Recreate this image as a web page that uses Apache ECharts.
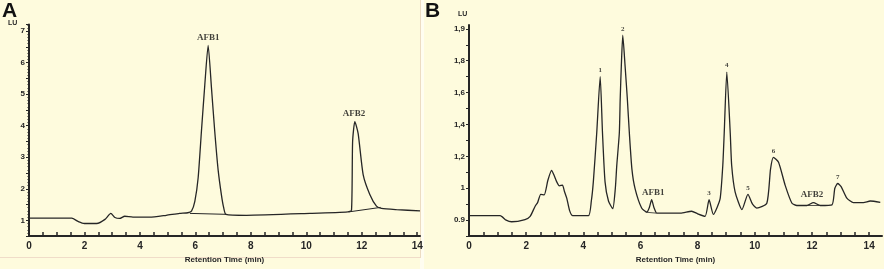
<!DOCTYPE html>
<html>
<head>
<meta charset="utf-8">
<script src="https://cdn.jsdelivr.net/npm/echarts@6/dist/echarts.min.js"></script>
<style>
  html, body { margin: 0; padding: 0; background: #fefbdd; }
  #chart { width: 884px; height: 269px; }
</style>
</head>
<body>
<div id="chart"></div>
<script>
// Panel A: chromatogram of standards (time in min, signal in LU)
const timeA = [0, 1.54, 1.78, 2.0, 2.44, 2.74, 2.95, 3.1, 3.27, 3.45, 3.75, 4.35, 4.95, 5.43, 5.73, 5.86, 5.98, 6.1, 6.22, 6.34, 6.46, 6.58, 6.7, 6.82, 6.94, 7.02, 7.1, 7.84, 10.13, 11.5, 11.63, 11.67, 11.75, 11.87, 12.05, 12.29, 12.53, 12.71, 13.25, 14.1];
const signalA = [1.07, 1.07, 0.96, 0.9, 0.9, 1.03, 1.22, 1.09, 1.06, 1.13, 1.1, 1.1, 1.16, 1.22, 1.24, 1.29, 1.6, 2.35, 3.85, 5.3, 6.55, 5.2, 3.8, 2.6, 1.8, 1.4, 1.19, 1.16, 1.22, 1.27, 1.32, 3.5, 4.13, 3.75, 2.45, 1.82, 1.45, 1.38, 1.34, 1.30];
// integration baselines under AFB1 / AFB2
const baseA1 = [[5.8, 1.22], [7.12, 1.19]];
const baseA2 = [[11.55, 1.27], [12.68, 1.41]];
const peakNamesA = ['AFB1', 'AFB2'];
const peakTimesA = [6.46, 11.72];
const peakValuesA = [6.55, 4.13];

// Panel B: sample chromatogram
const timeB = [0, 1.09, 1.3, 1.49, 1.96, 2.14, 2.31, 2.40, 2.51, 2.63, 2.76, 2.89, 2.98, 3.07, 3.16, 3.27, 3.34, 3.42, 3.52, 3.63, 4.18, 4.28, 4.35, 4.47, 4.59, 4.67, 4.76, 4.88, 5.03, 5.12, 5.17, 5.26, 5.29, 5.33, 5.38, 5.46, 5.54, 5.61, 5.7, 5.81, 6.04, 6.22, 6.31, 6.39, 6.47, 6.57, 6.69, 7.4, 7.79, 8.0, 8.26, 8.40, 8.55, 8.68, 8.79, 8.88, 8.93, 9.02, 9.14, 9.19, 9.31, 9.55, 9.76, 9.92, 10.07, 10.42, 10.55, 10.65, 10.83, 11.06, 11.30, 11.47, 11.82, 12.05, 12.29, 12.70, 12.8, 12.90, 13.02, 13.22, 13.45, 13.8, 14.04, 14.39];
const signalB = [0.914, 0.914, 0.9, 0.895, 0.902, 0.912, 0.943, 0.955, 0.981, 0.979, 1.05, 1.112, 1.08, 1.04, 1.015, 1.02, 0.99, 0.969, 0.93, 0.914, 0.914, 0.96, 1.04, 1.35, 1.70, 1.35, 1.04, 0.96, 0.936, 1.0, 1.142, 1.348, 1.56, 1.77, 1.88, 1.77, 1.56, 1.348, 1.12, 0.999, 0.938, 0.925, 0.94, 0.964, 0.94, 0.922, 0.922, 0.922, 0.928, 0.92, 0.912, 0.964, 0.918, 0.94, 0.969, 1.144, 1.348, 1.729, 1.348, 1.144, 0.989, 0.933, 0.981, 0.95, 0.938, 0.953, 1.12, 1.194, 1.163, 1.02, 0.953, 0.946, 0.946, 0.955, 0.946, 0.948, 1.0, 1.03, 1.01, 0.969, 0.955, 0.955, 0.96, 0.956];
const baseB1 = [[6.18, 0.925], [6.55, 0.922]];
const baseB2 = [[11.85, 0.946], [12.25, 0.946]];
const peakNamesB = ['1', '2', 'AFB1', '3', '4', '5', '6', 'AFB2', '7'];
const peakTimesB = [4.59, 5.38, 6.45, 8.40, 9.02, 9.76, 10.65, 12.0, 12.90];
const peakValuesB = [1.70, 1.88, 0.964, 0.964, 1.729, 0.981, 1.194, 0.955, 1.03];
// tick labels of the B axis (as printed, evenly spaced)
const yTicksB = [0.9, 1, 1.2, 1.4, 1.6, 1.8, 1.9];
const yLabelsB = ['0.9', '1', '1,2', '1,4', '1,6', '1,8', '1,9'];

// LU -> position on the evenly spaced B axis
function toIdx(v) {
    if (v <= yTicksB[0]) return (v - yTicksB[0]) / (yTicksB[1] - yTicksB[0]);
    for (let i = 1; i < yTicksB.length; i++) {
        if (v <= yTicksB[i]) return i - 1 + (v - yTicksB[i - 1]) / (yTicksB[i] - yTicksB[i - 1]);
    }
    let n = yTicksB.length - 1;
    return n + (v - yTicksB[n]) / (yTicksB[n] - yTicksB[n - 1]);
}

const ink = '#262626';
const lab = { fontFamily: 'Liberation Sans', fontWeight: 'bold', color: ink };

let chart = echarts.init(document.getElementById('chart'));

function xAx(idx, max) {
    return {
        type: 'value', gridIndex: idx, min: 0, max: max, interval: 0.5,
        axisLine: { onZero: false, lineStyle: { color: ink, width: 2 } },
        axisTick: { inside: true, length: 4, lineStyle: { color: ink, width: 1.5 } },
        splitLine: { show: false },
        axisLabel: Object.assign({ fontSize: 10, margin: 5, showMaxLabel: false,
            formatter: v => (v % 2 === 0 ? String(v) : '') }, lab),
        name: 'Retention Time (min)', nameLocation: 'middle', nameGap: 19,
        nameTextStyle: Object.assign({ fontSize: 8 }, lab)
    };
}

// peak name labels: small numbers, larger AFB names
function peakLabels(times, values, names, conv) {
    return times.map((t, i) => ({
        value: [t, conv(values[i])],
        label: { formatter: names[i], fontSize: names[i].length > 1 ? 9 : 7 }
    }));
}

let option = {
    animation: false,
    backgroundColor: '#fefbdd',
    graphic: [
        { type: 'rect', shape: { x: 420, y: 0, width: 4, height: 269 }, style: { fill: '#fffdf0' }, z: -1 },
        { type: 'line', shape: { x1: 420.5, y1: 0, x2: 420.5, y2: 258 }, style: { stroke: '#ecdcc2', lineWidth: 1 } },
        { type: 'line', shape: { x1: 0, y1: 257.5, x2: 420, y2: 257.5 }, style: { stroke: '#f0dcc8', lineWidth: 1 } },
        { type: 'text', left: 2, top: 1, style: { text: 'A', font: 'bold 21px Liberation Sans', fill: '#111' } },
        { type: 'text', left: 425, top: 1, style: { text: 'B', font: 'bold 21px Liberation Sans', fill: '#111' } },
        { type: 'text', left: 8, top: 20, style: { text: 'LU', font: 'bold 7px Liberation Sans', fill: ink } },
        { type: 'text', left: 458, top: 11, style: { text: 'LU', font: 'bold 7px Liberation Sans', fill: ink } }
    ],
    grid: [
        { left: 29, width: 391, top: 24.5, height: 212.5 },
        { left: 469, width: 413, top: 25, height: 215 }
    ],
    xAxis: [xAx(0, 14.1), xAx(1, 14.45)],
    yAxis: [
        {
            type: 'value', gridIndex: 0, min: 0.5, max: 7.21, interval: 0.5,
            axisLine: { show: true, lineStyle: { color: ink, width: 2 } },
            axisTick: { length: 3, lineStyle: { color: ink } },
            minorTick: { show: true, splitNumber: 5, length: 1.5, lineStyle: { color: ink } },
            splitLine: { show: false },
            axisLabel: Object.assign({ fontSize: 8, margin: 4, showMaxLabel: false,
                formatter: v => (Number.isInteger(v) ? String(v) : '') }, lab)
        },
        {
            type: 'value', gridIndex: 1, min: -0.5, max: 6.12, interval: 0.5,
            axisLine: { show: true, lineStyle: { color: ink, width: 2 } },
            axisTick: { length: 3, lineStyle: { color: ink } },
            splitLine: { show: false },
            axisLabel: Object.assign({ fontSize: 8, margin: 4, showMaxLabel: false,
                formatter: v => (Number.isInteger(v) && v >= 0 ? yLabelsB[v] : '') }, lab)
        }
    ],
    series: [
        {
            type: 'line', xAxisIndex: 0, yAxisIndex: 0, symbol: 'none',
            smooth: 0.2,
            lineStyle: { color: ink, width: 1.3 },
            data: timeA.map((t, i) => [t, signalA[i]])
        },
        { type: 'line', xAxisIndex: 0, yAxisIndex: 0, symbol: 'none', lineStyle: { color: ink, width: 1 }, data: baseA1 },
        { type: 'line', xAxisIndex: 0, yAxisIndex: 0, symbol: 'none', lineStyle: { color: ink, width: 1 }, data: baseA2 },
        {
            type: 'scatter', xAxisIndex: 0, yAxisIndex: 0, symbolSize: 0,
            label: { show: true, position: 'top', distance: 3,
                fontFamily: 'Liberation Serif', fontWeight: 'bold', color: '#111' },
            data: peakLabels(peakTimesA, peakValuesA, peakNamesA, v => v)
        },
        {
            type: 'line', xAxisIndex: 1, yAxisIndex: 1, symbol: 'none',
            smooth: 0.2,
            lineStyle: { color: ink, width: 1.3 },
            data: timeB.map((t, i) => [t, toIdx(signalB[i])])
        },
        { type: 'line', xAxisIndex: 1, yAxisIndex: 1, symbol: 'none', lineStyle: { color: ink, width: 0.8 }, data: baseB1.map(p => [p[0], toIdx(p[1])]) },
        { type: 'line', xAxisIndex: 1, yAxisIndex: 1, symbol: 'none', lineStyle: { color: ink, width: 0.8 }, data: baseB2.map(p => [p[0], toIdx(p[1])]) },
        {
            type: 'scatter', xAxisIndex: 1, yAxisIndex: 1, symbolSize: 0,
            label: { show: true, position: 'top', distance: 3,
                fontFamily: 'Liberation Serif', fontWeight: 'bold', color: '#111' },
            data: peakLabels(peakTimesB, peakValuesB, peakNamesB, toIdx)
        }
    ]
};

chart.setOption(option);
</script>
</body>
</html>
